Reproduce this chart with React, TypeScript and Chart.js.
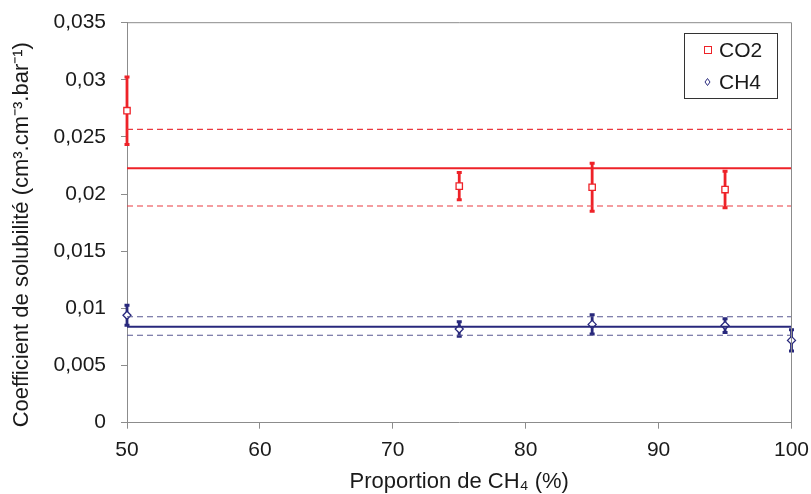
import React, { useEffect, useRef } from "react";
import { Chart, registerables } from "chart.js";

Chart.register(...registerables);

const co2X = [50, 75, 85, 95];
const co2Values = [0.0273, 0.0207, 0.0206, 0.0204];
const co2Errors = [0.00295, 0.0012, 0.0021, 0.0016];

const ch4X = [50, 75, 85, 95, 100];
const ch4Values = [0.0094, 0.0082, 0.0086, 0.0085, 0.0072];
const ch4Errors = [0.00088, 0.00064, 0.00084, 0.0006, 0.00093];

const lineX = [50, 100];
const co2Mean = 0.02226;
const co2Upper = 0.02567;
const co2Lower = 0.01896;
const ch4Mean = 0.0084;
const ch4Upper = 0.00927;
const ch4Lower = 0.00765;

const legendLabels = ["CO2", "CH4"];
const yTitle = "Coefficient de solubilité (cm³.cm⁻³.bar⁻¹)";
const xTitle = "Proportion de CH₄ (%)";

const RED = "#ee2228";
const RED_DASH = "#ea3a40";
const NAVY = "#28287c";
const NAVY_DASH = "#5a5a92";
const FONT = "'Liberation Sans', Arial, sans-serif";

const hline = (y: number, color: string, width: number, dash: number[]) => ({
  type: "line" as const,
  data: lineX.map((x) => ({ x, y })),
  borderColor: color,
  borderWidth: width,
  borderDash: dash,
  pointRadius: 0,
  showLine: true,
  fill: false,
  clip: false as any,
});

const errorBarPlugin = {
  id: "errorBars",
  beforeDatasetDraw(chart: any, args: any) {
    const ds = chart.data.datasets[args.index];
    if (!ds.errors) return;
    const meta = chart.getDatasetMeta(args.index);
    const ys = chart.scales.y;
    const ctx = chart.ctx;
    ctx.save();
    ctx.strokeStyle = ds.errColor;
    meta.data.forEach((pt: any, i: number) => {
      const v = ds.data[i].y;
      const e = ds.errors[i];
      const top = ys.getPixelForValue(v + e);
      const bot = ys.getPixelForValue(v - e);
      ctx.lineWidth = 2.8;
      ctx.beginPath();
      ctx.moveTo(pt.x, top);
      ctx.lineTo(pt.x, bot);
      ctx.stroke();
      ctx.lineWidth = 3;
      ctx.beginPath();
      ctx.moveTo(pt.x - 2.5, top);
      ctx.lineTo(pt.x + 2.5, top);
      ctx.moveTo(pt.x - 2.5, bot);
      ctx.lineTo(pt.x + 2.5, bot);
      ctx.stroke();
    });
    ctx.restore();
  },
};

const frameLegendPlugin = {
  id: "frameLegend",
  afterDraw(chart: any) {
    const { ctx, chartArea } = chart;
    ctx.save();
    ctx.strokeStyle = "#8c8c8c";
    ctx.lineWidth = 1;
    ctx.beginPath();
    ctx.moveTo(chartArea.left, chartArea.top);
    ctx.lineTo(chartArea.right, chartArea.top);
    ctx.lineTo(chartArea.right, chartArea.bottom);
    ctx.stroke();

    // y axis title
    ctx.save();
    ctx.translate(22, (chartArea.top + chartArea.bottom) / 2 + 12);
    ctx.rotate(-Math.PI / 2);
    ctx.font = `22px ${FONT}`;
    ctx.fillStyle = "#1a1a1a";
    ctx.textAlign = "center";
    ctx.textBaseline = "middle";
    ctx.fillText(yTitle, 0, 0);
    ctx.restore();

    const bx = Math.round(chartArea.right - 107.5);
    const by = Math.round(chartArea.top + 10);
    const bw = 93;
    const bh = 65;
    ctx.strokeStyle = "#333333";
    ctx.strokeRect(bx + 0.5, by + 0.5, bw, bh);
    ctx.font = `21px ${FONT}`;
    ctx.textBaseline = "middle";
    ctx.textAlign = "left";
    // CO2
    ctx.fillStyle = "#ffffff";
    ctx.strokeStyle = RED;
    ctx.lineWidth = 1;
    ctx.fillRect(bx + 20.5, by + 13.5, 7, 7);
    ctx.strokeRect(bx + 20.5, by + 13.5, 7, 7);
    ctx.fillStyle = "#1a1a1a";
    ctx.fillText(legendLabels[0], bx + 35, by + 18);
    // CH4
    ctx.strokeStyle = NAVY;
    ctx.beginPath();
    const cx = bx + 23.5, cy = by + 49;
    ctx.moveTo(cx, cy - 3.5);
    ctx.lineTo(cx + 2.5, cy);
    ctx.lineTo(cx, cy + 3.5);
    ctx.lineTo(cx - 2.5, cy);
    ctx.closePath();
    ctx.fillStyle = "#fff";
    ctx.fill();
    ctx.stroke();
    ctx.fillStyle = "#1a1a1a";
    ctx.fillText(legendLabels[1], bx + 35, by + 50);
    ctx.restore();
  },
};

export default function App() {
  const ref = useRef<HTMLCanvasElement | null>(null);
  useEffect(() => {
    if (!ref.current) return;
    const chart = new Chart(ref.current, {
      type: "scatter",
      data: {
        datasets: [
          hline(co2Upper, RED_DASH, 1.2, [6, 4]),
          hline(co2Lower, RED_DASH, 1.2, [6, 4]),
          hline(co2Mean, RED, 2, []),
          hline(ch4Upper, NAVY_DASH, 1.2, [6, 4]),
          hline(ch4Lower, NAVY_DASH, 1.2, [6, 4]),
          hline(ch4Mean, NAVY, 2, []),
          {
            label: legendLabels[0],
            data: co2X.map((x, i) => ({ x, y: co2Values[i] })),
            pointStyle: "rect",
            pointRadius: 4.5,
            pointBackgroundColor: "#ffffff",
            pointBorderColor: RED,
            pointBorderWidth: 1.3,
            errors: co2Errors,
            errColor: RED,
            clip: false,
          } as any,
          {
            label: legendLabels[1],
            data: ch4X.map((x, i) => ({ x, y: ch4Values[i] })),
            pointStyle: "rectRot",
            pointRadius: 4,
            pointBackgroundColor: "#ffffff",
            pointBorderColor: NAVY,
            pointBorderWidth: 1.3,
            errors: ch4Errors,
            errColor: NAVY,
            clip: false,
          } as any,
        ],
      },
      options: {
        animation: false,
        responsive: true,
        maintainAspectRatio: false,
        layout: { padding: { top: 22.7, right: 19.5, left: 0, bottom: 0 } },
        plugins: { legend: { display: false }, tooltip: { enabled: false } },
        scales: {
          x: {
            type: "linear",
            min: 50,
            max: 100,
            ticks: {
              stepSize: 10,
              color: "#1a1a1a",
              font: { family: FONT, size: 21 },
              padding: 9,
            },
            grid: {
              drawOnChartArea: false,
              drawTicks: true,
              tickLength: 6,
              color: "#8c8c8c",
            },
            border: { color: "#8c8c8c", width: 1 },
            title: {
              display: true,
              text: xTitle,
              color: "#1a1a1a",
              font: { family: FONT, size: 22, lineHeight: 1.1 },
              padding: { top: 4, bottom: 0 },
            },
            afterFit: (s: any) => {
              s.height = 71.3;
              s.paddingLeft = 0;
              s.paddingRight = 0;
            },
          },
          y: {
            type: "linear",
            min: 0,
            max: 0.035,
            ticks: {
              stepSize: 0.005,
              color: "#1a1a1a",
              font: { family: FONT, size: 21 },
              padding: 15,
              callback: (v: any) =>
                Number(Number(v).toFixed(3)).toString().replace(".", ","),
            },
            grid: {
              drawOnChartArea: false,
              drawTicks: true,
              tickLength: 6,
              color: "#8c8c8c",
            },
            border: { color: "#8c8c8c", width: 1 },
            title: { display: false },
            afterFit: (s: any) => {
              s.width = 127;
              s.paddingTop = 0;
              s.paddingBottom = 0;
            },
          },
        },
      },
      plugins: [errorBarPlugin, frameLegendPlugin],
    });
    return () => chart.destroy();
  }, []);
  return (
    <div style={{ position: "absolute", left: 0, top: 0, width: 811, height: 494, background: "#fff" }}>
      <canvas ref={ref} />
    </div>
  );
}
